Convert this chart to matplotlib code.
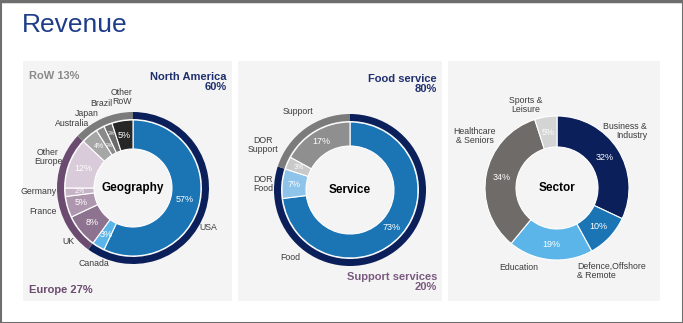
import matplotlib.pyplot as plt
from matplotlib.patches import Rectangle

plt.rcParams['font.family'] = ['Liberation Sans', 'DejaVu Sans']

W, H = 683, 323

# geography
geo_names = ["USA", "Canada", "UK", "France", "Germany", "Other\nEurope",
             "Australia", "Japan", "Brazil", "Other\nRoW"]
geo_vals = [57, 3, 8, 5, 2, 12, 4, 2, 2, 5]
geo_colors = ["#1b75b5", "#5bb5e8", "#8e7390", "#ad96ae", "#c6b4c6", "#d9cbd9",
              "#a6a6a6", "#8a8a8a", "#6a6a6a", "#262626"]
region_names = ["North America", "Europe", "RoW"]
region_vals = [60, 27, 13]
region_colors = ["#0b1f5b", "#6b4b6f", "#7b7b7b"]

# service
svc_names = ["Food", "DOR\nFood", "DOR\nSupport", "Support"]
svc_vals = [73, 7, 3, 17]
svc_colors = ["#1b75b5", "#8ec4ea", "#c9c9c9", "#8f8f8f"]
svc_group_names = ["Food service", "Support services"]
svc_group_vals = [80, 20]
svc_group_colors = ["#0b1f5b", "#7b7b7b"]

# sector
sec_names = ["Business &\nIndustry", "Defence,Offshore\n& Remote", "Education",
             "Healthcare\n& Seniors", "Sports &\nLeisure"]
sec_vals = [32, 10, 19, 34, 5]
sec_colors = ["#0b1f5b", "#1b75b5", "#5bb5e8", "#6f6b68", "#d4d4d4"]

fig = plt.figure(figsize=(W / 100, H / 100), dpi=100)
ax = fig.add_axes([0, 0, 1, 1])
ax.set_xlim(0, W)
ax.set_ylim(0, H)
ax.set_aspect('equal')
ax.axis('off')


def Y(y):
    return H - y


# frame and panels
ax.add_patch(Rectangle((0.5, 0.5), W - 1, H - 1, fill=False, ec="#6e6e6e", lw=1.5))
ax.plot([0, W], [H - 1, H - 1], color="#6e6e6e", lw=2.5)
for x0, x1 in [(23, 232), (238, 442), (448, 660)]:
    ax.add_patch(Rectangle((x0, Y(301)), x1 - x0, 240, fc="#f4f4f4", ec="none"))

ax.text(22, Y(25), "Revenue", fontsize=19, color="#1f3c88", va="center", ha="left")

label_col = "#3c3c3c"


def donut(vals, colors, center, r_out, r_in, pct_sizes=None, pct_shift=None, ring=None):
    wedges, _, autos = ax.pie(vals, colors=colors, startangle=90, counterclock=False,
                              center=center, radius=r_out, autopct='%d%%',
                              pctdistance=(r_out + r_in) / 2 / r_out,
                              wedgeprops=dict(width=r_out - r_in, edgecolor="white", linewidth=0.8),
                              textprops=dict(color="white", fontsize=6.5), frame=True)
    if pct_sizes:
        for t, s in zip(autos, pct_sizes):
            t.set_fontsize(s)
    if pct_shift:
        # push crowded labels in or out along the radius
        for t, k in zip(autos, pct_shift):
            px, py = t.get_position()
            t.set_position((center[0] + (px - center[0]) * k, center[1] + (py - center[1]) * k))
    if ring:
        rv, rc, rr = ring
        ax.pie(rv, colors=rc, startangle=90, counterclock=False, center=center, radius=rr,
               wedgeprops=dict(width=7, edgecolor="none"), frame=True)


# Geography
gc = (133, Y(188))
donut(geo_vals, geo_colors, gc, 68, 39,
      pct_sizes=[6.5, 6.5, 6.5, 6.5, 5, 6.5, 5, 3.8, 3.8, 6.5],
      pct_shift=[1, 1, 1, 1, 1, 1, 1, 0.9, 1.1, 1],
      ring=(region_vals, region_colors, 76))
ax.text(gc[0], gc[1], "Geography", fontsize=8.5, fontweight="bold", ha="center", va="center")
geo_pos = [(208, 227), (94, 263), (68, 242), (43, 212), (39, 191), (48, 157),
           (72, 123), (87, 113), (101, 103), (122, 97)]
for n, (x, y) in zip(geo_names, geo_pos):
    ax.text(x, Y(y), n, fontsize=6.3, color=label_col, ha="center", va="center", linespacing=1.0)
ax.text(29, Y(76), "RoW 13%", fontsize=8, fontweight="bold", color="#8a8a8a", va="center")
ax.text(227, Y(82), "North America\n60%", fontsize=8, fontweight="bold", color="#1f2f6e",
        va="center", ha="right", linespacing=1.1)
ax.text(29, Y(290), "Europe 27%", fontsize=8, fontweight="bold", color="#6b4b6f", va="center")

# Service
sc = (350, Y(190))
donut(svc_vals, svc_colors, sc, 68, 44, pct_sizes=[6.5, 6.5, 5, 6.5],
      ring=(svc_group_vals, svc_group_colors, 76))
ax.text(sc[0], sc[1], "Service", fontsize=8.5, fontweight="bold", ha="center", va="center")
svc_pos = [(290, 257), (263, 184), (263, 145), (298, 111)]
for n, (x, y) in zip(svc_names, svc_pos):
    ax.text(x, Y(y), n, fontsize=6.3, color=label_col, ha="center", va="center", linespacing=1.0)
ax.text(437, Y(84), "Food service\n80%", fontsize=8, fontweight="bold", color="#1f2f6e",
        va="center", ha="right", linespacing=1.1)
ax.text(437, Y(282), "Support services\n20%", fontsize=8, fontweight="bold", color="#7a5a7f",
        va="center", ha="right", linespacing=1.1)

# Sector
tc = (557, Y(188))
donut(sec_vals, sec_colors, tc, 72, 41)
ax.text(tc[0], tc[1], "Sector", fontsize=8.5, fontweight="bold", ha="center", va="center")
sec_pos = [(647, 131, "right"), (577, 271, "left"), (519, 267, "center"),
           (475, 136, "center"), (526, 105, "center")]
for n, (x, y, ha) in zip(sec_names, sec_pos):
    ax.text(x, Y(y), n, fontsize=6.3, color=label_col, ha=ha, va="center", linespacing=1.0,
            multialignment="left" if ha == "left" else ha)

ax.set_xlim(0, W)
ax.set_ylim(0, H)
ax.axis('off')
fig.savefig("out.png", dpi=100)
